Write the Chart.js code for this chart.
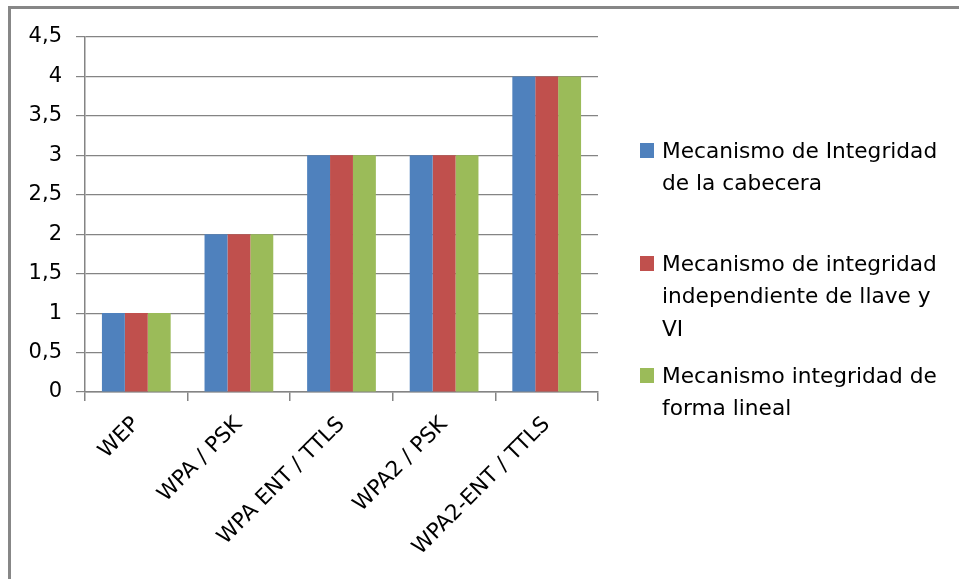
<!DOCTYPE html>
<html>
<head>
<meta charset="utf-8">
<script src="https://cdn.jsdelivr.net/npm/chart.js@4/dist/chart.umd.min.js"></script>
<style>
  html, body { margin: 0; padding: 0; background: #fff; }
  #wrap { position: relative; width: 959px; height: 579px; overflow: hidden; }
  #c { position: absolute; left: 0; top: 0; }
  #frame {
    position: absolute; left: 8px; top: 6px; right: -10px; bottom: -10px;
    border-top: 3px solid #878787; border-left: 3px solid #878787;
    pointer-events: none;
  }
  #legend { position: absolute; left: 640px; top: 0; width: 319px; height: 579px;
    font-family: "DejaVu Sans", sans-serif; font-size: 21.7px; line-height: 32.5px; color: #000; }
  .item { position: absolute; left: 0; }
  .swatch { position: absolute; left: 0; top: 8.5px; width: 14px; height: 15px; }
  .label { position: absolute; left: 22px; top: 0; width: 292px; }
</style>
</head>
<body>
<div id="wrap">
  <canvas id="c" width="959" height="579"></canvas>
  <div id="frame"></div>
  <div id="legend"></div>
</div>
<script>
// Categories (security protocols) and the three integrity-mechanism series
const categories = ['WEP', 'WPA / PSK', 'WPA ENT / TTLS', 'WPA2 / PSK', 'WPA2-ENT / TTLS'];
const headerIntegrity = [1, 2, 3, 3, 4];
const keyIvIntegrity = [1, 2, 3, 3, 4];
const linearIntegrity = [1, 2, 3, 3, 4];
const seriesNames = [
  'Mecanismo de Integridad de la cabecera',
  'Mecanismo de integridad independiente de llave y VI',
  'Mecanismo integridad de forma lineal'
];
const seriesColors = ['#4F81BD', '#C0504D', '#9BBB59'];
const yMin = 0, yMax = 4.5, yStep = 0.5;

const axisGray = '#848484';
const yTickFont = { family: '"DejaVu Sans", sans-serif', size: 21 };
const xTickFont = { family: '"DejaVu Sans", sans-serif', size: 21.5 };

const seriesValues = [headerIntegrity, keyIvIntegrity, linearIntegrity];

new Chart(document.getElementById('c'), {
  type: 'bar',
  data: {
    labels: categories,
    datasets: seriesValues.map((vals, i) => ({
      label: seriesNames[i],
      data: vals,
      backgroundColor: seriesColors[i],
      borderWidth: 0,
      categoryPercentage: 0.67,
      barPercentage: 1.0
    }))
  },
  options: {
    responsive: false,
    animation: false,
    devicePixelRatio: 1,
    layout: { padding: { left: 10, right: 361, top: 37, bottom: 0 } },
    plugins: { legend: { display: false }, tooltip: { enabled: false } },
    scales: {
      x: {
        grid: { display: true, drawOnChartArea: false, offset: true, color: axisGray, tickLength: 9, lineWidth: 1.5 },
        border: { color: axisGray, width: 1.5 },
        ticks: { color: '#000', font: xTickFont, maxRotation: 45, minRotation: 45, padding: 11, autoSkip: false },
        afterFit: (axis) => { axis.height = 187; }
      },
      y: {
        min: yMin,
        max: yMax,
        grid: { color: axisGray, tickLength: 9, lineWidth: 1.2 },
        border: { color: axisGray, width: 1.5 },
        ticks: {
          stepSize: yStep,
          color: '#000',
          font: yTickFont,
          padding: 14,
          callback: (v) => String(v).replace('.', ',')
        },
        afterFit: (axis) => { axis.width = 75; }
      }
    }
  }
});

// Legend on the right: colour swatch plus wrapped series name
const legendTops = [134.5, 247.5, 359.5];
const legend = document.getElementById('legend');
seriesNames.forEach((name, i) => {
  const item = document.createElement('div');
  item.className = 'item';
  item.style.top = legendTops[i] + 'px';
  const sw = document.createElement('div');
  sw.className = 'swatch';
  sw.style.background = seriesColors[i];
  const lb = document.createElement('div');
  lb.className = 'label';
  lb.textContent = name;
  item.appendChild(sw);
  item.appendChild(lb);
  legend.appendChild(item);
});
</script>
</body>
</html>
